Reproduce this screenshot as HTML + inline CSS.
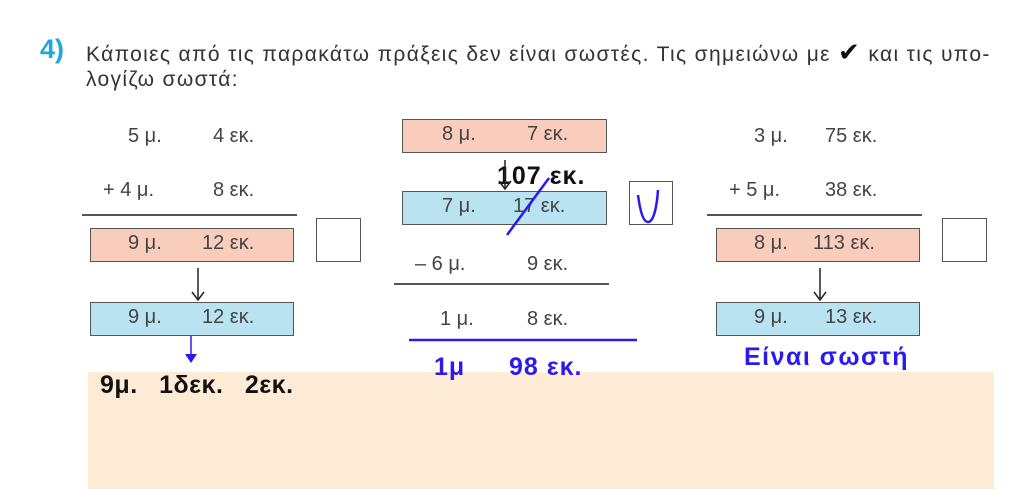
<!DOCTYPE html>
<html><head><meta charset="utf-8"><style>
body{margin:0;width:1024px;height:489px;background:#fff;position:relative;overflow:hidden;font-family:"Liberation Sans","DejaVu Sans",sans-serif;}
.a{position:absolute;white-space:nowrap;}
.t{font-size:21px;color:#333;letter-spacing:1.35px;}
.n{font-size:20px;color:#444;}
.bx{position:absolute;border:1.5px solid #555;box-sizing:border-box;}
.s{background:#f9cdbb;}.b{background:#b9e3f0;}
.sq{position:absolute;border:1.5px solid #555;box-sizing:border-box;background:#fff;}
.ln{position:absolute;height:2px;background:#555;}
.bold{font-weight:bold;font-size:25px;letter-spacing:1px;line-height:28px;}
</style></head><body>
<div style="position:absolute;left:88px;top:372px;width:906px;height:117px;background:#fdebd6"></div>
<div class="a" style="left:40px;top:34px;font-size:27px;font-weight:bold;color:#1fa7dc">4)</div>
<div class="a t" style="left:86px;top:37px">Κάποιες από τις παρακάτω πράξεις δεν είναι σωστές. Τις σημειώνω με <span style="font-size:26px;color:#111">✔</span> και τις υπο-</div>
<div class="a t" style="left:86px;top:68px">λογίζω σωστά:</div>

<!-- left -->
<div class="a n" style="left:128px;top:125px">5 μ.</div><div class="a n" style="left:213px;top:125px">4 εκ.</div>
<div class="a n" style="left:103px;top:179px">+ 4 μ.</div><div class="a n" style="left:213px;top:179px">8 εκ.</div>
<div class="ln" style="left:82px;top:214px;width:215px"></div>
<div class="bx s" style="left:90px;top:228px;width:204px;height:34px"></div>
<div class="a n" style="left:128px;top:232px">9 μ.</div><div class="a n" style="left:202px;top:232px">12 εκ.</div>
<div class="sq" style="left:316px;top:218px;width:45px;height:44px"></div>
<div class="bx b" style="left:90px;top:302px;width:204px;height:34px"></div>
<div class="a n" style="left:128px;top:306px">9 μ.</div><div class="a n" style="left:202px;top:306px">12 εκ.</div>
<div class="a bold" style="left:100px;top:371px;color:#111;word-spacing:14px;letter-spacing:0.5px">9μ. 1δεκ. 2εκ.</div>

<!-- middle -->
<div class="bx s" style="left:402px;top:119px;width:205px;height:34px"></div>
<div class="a n" style="left:442px;top:123px">8 μ.</div><div class="a n" style="left:527px;top:123px">7 εκ.</div>
<div class="bx b" style="left:402px;top:191px;width:205px;height:34px"></div>
<div class="a n" style="left:442px;top:195px">7 μ.</div><div class="a n" style="left:513px;top:195px">17 εκ.</div>
<div class="a bold" style="left:497px;top:162px;color:#111">107 εκ.</div>
<div class="sq" style="left:629px;top:181px;width:44px;height:44px"></div>
<div class="a n" style="left:415px;top:253px">– 6 μ.</div><div class="a n" style="left:527px;top:253px">9 εκ.</div>
<div class="ln" style="left:394px;top:283px;width:215px"></div>
<div class="a n" style="left:440px;top:308px">1 μ.</div><div class="a n" style="left:527px;top:308px">8 εκ.</div>
<div class="a bold" style="left:434px;top:353px;color:#2a1aef">1μ</div>
<div class="a bold" style="left:509px;top:353px;color:#2a1aef">98 εκ.</div>

<!-- right -->
<div class="a n" style="left:754px;top:125px">3 μ.</div><div class="a n" style="left:825px;top:125px">75 εκ.</div>
<div class="a n" style="left:729px;top:179px">+ 5 μ.</div><div class="a n" style="left:825px;top:179px">38 εκ.</div>
<div class="ln" style="left:707px;top:214px;width:215px"></div>
<div class="bx s" style="left:716px;top:228px;width:204px;height:34px"></div>
<div class="a n" style="left:754px;top:232px">8 μ.</div><div class="a n" style="left:813px;top:232px">113 εκ.</div>
<div class="sq" style="left:942px;top:218px;width:45px;height:44px"></div>
<div class="bx b" style="left:716px;top:302px;width:204px;height:34px"></div>
<div class="a n" style="left:754px;top:306px">9 μ.</div><div class="a n" style="left:825px;top:306px">13 εκ.</div>
<div class="a bold" style="left:744px;top:343px;color:#2a1aef;letter-spacing:1.5px">Είναι σωστή</div>

<svg width="1024" height="489" style="position:absolute;left:0;top:0">
<g stroke="#222" stroke-width="1.5" fill="none">
<line x1="198" y1="268" x2="198" y2="300"/><polyline points="192,292 198,300 204,292"/>
<line x1="820" y1="268" x2="820" y2="300"/><polyline points="814,292 820,300 826,292"/>
<line x1="505" y1="160" x2="505" y2="189"/><polyline points="499,181 505,189 511,181"/>
</g>
<line x1="191" y1="336" x2="191" y2="355" stroke="#2a1aef" stroke-width="1.5"/>
<polygon points="185,354 197,354 191,363" fill="#2a1aef"/>
<line x1="507" y1="235" x2="549" y2="178" stroke="#2a1aef" stroke-width="2.5"/>
<path d="M638,195 C640,210 643,222 648,222 C654,222 657,205 658,190" stroke="#2a1aef" stroke-width="2.5" fill="none"/>
<line x1="409" y1="340" x2="637" y2="340" stroke="#2a1aef" stroke-width="2.5"/>
</svg>
</body></html>
